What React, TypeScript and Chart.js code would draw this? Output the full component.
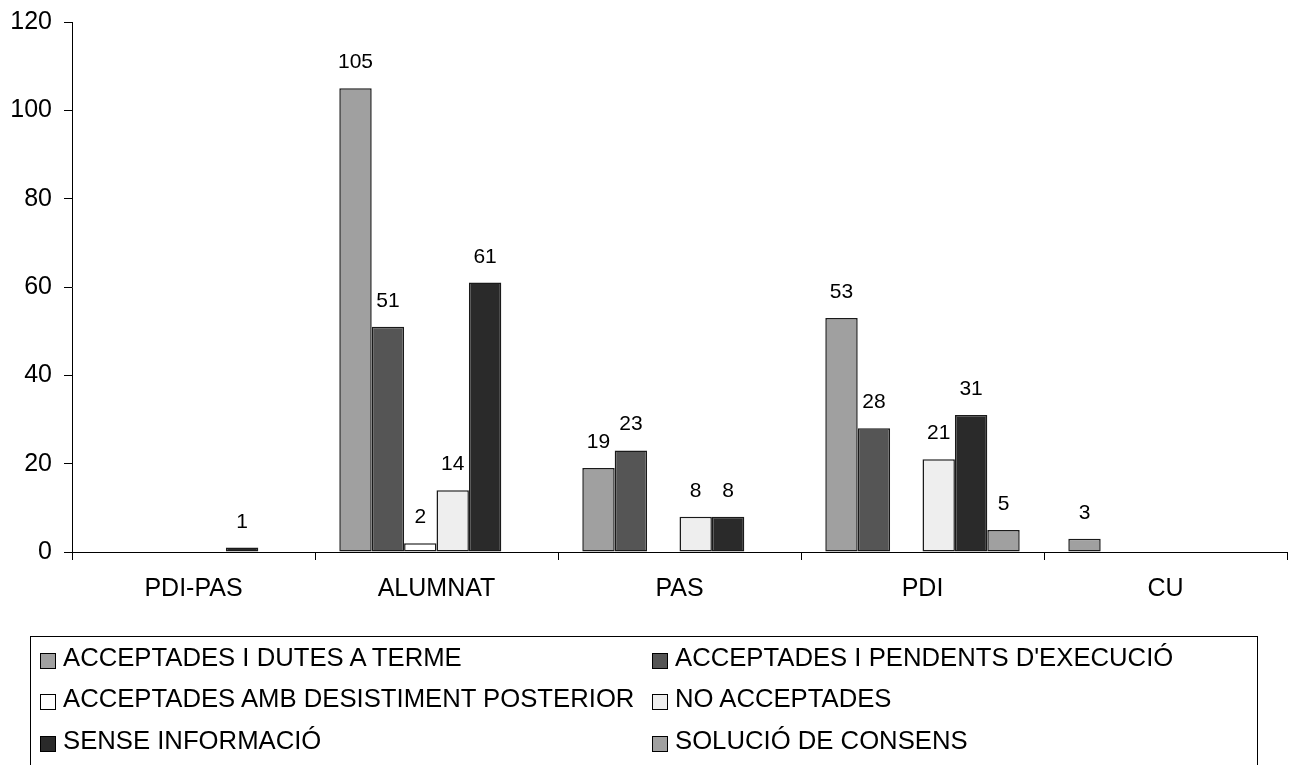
import React, { useEffect, useRef } from "react";
import { Chart, registerables } from "chart.js";

Chart.register(...registerables);

const categories = ["PDI-PAS", "ALUMNAT", "PAS", "PDI", "CU"];

const seriesNames = [
  "ACCEPTADES I DUTES A TERME",
  "ACCEPTADES I PENDENTS D'EXECUCIÓ",
  "ACCEPTADES AMB DESISTIMENT POSTERIOR",
  "NO ACCEPTADES",
  "SENSE INFORMACIÓ",
  "SOLUCIÓ DE CONSENS",
];

const acceptadesDutes = [0, 105, 19, 53, 3];
const acceptadesPendents = [0, 51, 23, 28, 0];
const acceptadesDesistiment = [0, 2, 0, 0, 0];
const noAcceptades = [0, 14, 8, 21, 0];
const senseInformacio = [1, 61, 8, 31, 0];
const solucioConsens = [0, 0, 0, 5, 0];

const yTickValues = [0, 20, 40, 60, 80, 100, 120];

const seriesColors = ["#a0a0a0", "#555555", "#ffffff", "#eeeeee", "#2a2a2a", "#a0a0a0"];

const FONT = "'Liberation Sans', Arial, Helvetica, sans-serif";

const allSeries = [
  acceptadesDutes,
  acceptadesPendents,
  acceptadesDesistiment,
  noAcceptades,
  senseInformacio,
  solucioConsens,
];

const valueLabels = {
  id: "valueLabels",
  afterDatasetsDraw(chart: any) {
    const ctx = chart.ctx;
    ctx.save();
    ctx.font = `21px ${FONT}`;
    ctx.fillStyle = "#000";
    ctx.textAlign = "center";
    ctx.textBaseline = "alphabetic";
    chart.data.datasets.forEach((ds: any, di: number) => {
      const meta = chart.getDatasetMeta(di);
      meta.data.forEach((el: any, i: number) => {
        const v = ds.data[i];
        if (v === null || v === undefined) return;
        ctx.fillText(String(v), el.x, el.y - 20);
      });
    });
    ctx.restore();
  },
};

export default function App() {
  const canvasRef = useRef<HTMLCanvasElement | null>(null);

  useEffect(() => {
    if (!canvasRef.current) return;
    const chart = new Chart(canvasRef.current, {
      type: "bar",
      data: {
        labels: categories,
        datasets: allSeries.map((s, i) => ({
          label: seriesNames[i],
          data: s.map((v) => (v === 0 ? null : v)),
          backgroundColor: seriesColors[i],
          borderColor: "#1a1a1a",
          borderWidth: 1.5,
          borderSkipped: false,
          categoryPercentage: 0.8,
          barPercentage: 1.0,
        })),
      },
      options: {
        animation: false,
        responsive: false,
        maintainAspectRatio: false,
        devicePixelRatio: 1,
        layout: { padding: { top: 22, left: 0, right: 9, bottom: 153 } },
        plugins: {
          legend: { display: false },
          tooltip: { enabled: false },
          title: { display: false },
        },
        scales: {
          x: {
            grid: {
              display: true,
              drawOnChartArea: false,
              drawTicks: true,
              tickLength: 8,
              color: "#000",
              offset: true,
            },
            border: { display: true, color: "#000", width: 1 },
            ticks: {
              color: "#000",
              font: { family: FONT, size: 25 },
              padding: 14,
              maxRotation: 0,
            },
            afterFit(scale: any) {
              scale.height = 60;
              scale.paddingLeft = 0;
              scale.paddingRight = 0;
            },
          },
          y: {
            min: 0,
            max: 120,
            afterBuildTicks(scale: any) {
              scale.ticks = yTickValues.map((v) => ({ value: v }));
            },
            grid: {
              display: true,
              drawOnChartArea: false,
              drawTicks: true,
              tickLength: 8,
              color: "#000",
            },
            border: { display: true, color: "#000", width: 1 },
            ticks: {
              color: "#000",
              font: { family: FONT, size: 25 },
              padding: 12,
            },
            afterFit(scale: any) {
              scale.width = 72;
              scale.paddingTop = 0;
              scale.paddingBottom = 0;
            },
          },
        },
      },
      plugins: [valueLabels],
    });
    return () => chart.destroy();
  }, []);

  const rowCenters = [657, 698, 740];
  const colSwatchX = [40, 652];
  const colTextX = [63, 675];

  return (
    <div
      style={{
        position: "fixed",
        left: 0,
        top: 0,
        width: 1296,
        height: 765,
        overflow: "hidden",
        background: "#fff",
        fontFamily: FONT,
      }}
    >
      <canvas ref={canvasRef} width={1296} height={765} style={{ position: "absolute", left: 0, top: 0 }} />
      <div
        style={{
          position: "absolute",
          left: 30,
          top: 636,
          width: 1228,
          height: 160,
          border: "1px solid #000",
          boxSizing: "border-box",
        }}
      />
      {seriesNames.map((name, i) => {
        const row = Math.floor(i / 2);
        const col = i % 2;
        const c = rowCenters[row];
        return (
          <React.Fragment key={name}>
            <div
              style={{
                position: "absolute",
                left: colSwatchX[col],
                top: c - 4,
                width: 14,
                height: 14,
                background: seriesColors[i],
                border: "1px solid #000",
              }}
            />
            <div
              style={{
                position: "absolute",
                left: colTextX[col],
                top: c - 15,
                height: 30,
                lineHeight: "30px",
                fontSize: 25.7,
                color: "#000",
                whiteSpace: "nowrap",
              }}
            >
              {name}
            </div>
          </React.Fragment>
        );
      })}
    </div>
  );
}
